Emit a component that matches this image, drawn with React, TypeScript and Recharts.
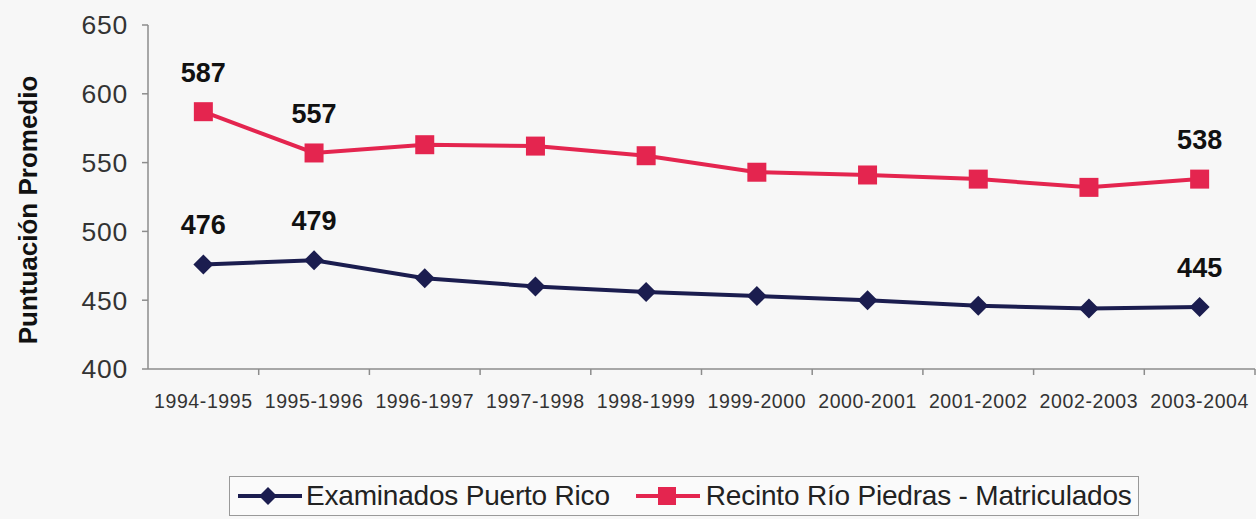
import { LineChart, Line, XAxis, YAxis, LabelList, Label } from "recharts";

const categories = [
  "1994-1995",
  "1995-1996",
  "1996-1997",
  "1997-1998",
  "1998-1999",
  "1999-2000",
  "2000-2001",
  "2001-2002",
  "2002-2003",
  "2003-2004",
];
const examinados = [476, 479, 466, 460, 456, 453, 450, 446, 444, 445];
const recinto = [587, 557, 563, 562, 555, 543, 541, 538, 532, 538];
const labeledIdx = [0, 1, 9];
const yTicks = [400, 450, 500, 550, 600, 650];

const NAVY = "#1b1d4f";
const RED = "#e4254f";
const AXIS = "#8c8c8c";
const FONT = '"Liberation Sans", Arial, sans-serif';

const W = 1256;
const H = 519;
const MARGIN = { top: 25, right: 1, left: 0, bottom: 110 };
const Y_AXIS_W = 148;
const BAND = (W - Y_AXIS_W - MARGIN.right) / categories.length;

const data = categories.map((c, i) => ({
  name: c,
  examinados: examinados[i],
  recinto: recinto[i],
}));

function XTick(props: any) {
  const { x, y, payload } = props;
  return (
    <g>
      <line x1={x + BAND / 2} y1={y} x2={x + BAND / 2} y2={y + 6} stroke={AXIS} strokeWidth={1.5} />
      <text
        x={x}
        y={y + 32}
        textAnchor="middle"
        dominantBaseline="central"
        fontSize={19.5}
        letterSpacing={0.6}
        fill="#333"
        fontFamily={FONT}
      >
        {payload.value}
      </text>
    </g>
  );
}

function SquareDot(props: any) {
  const { cx, cy } = props;
  if (cx == null || cy == null) return null;
  return <rect x={cx - 9.5} y={cy - 9.5} width={19} height={19} fill={RED} />;
}

function DiamondDot(props: any) {
  const { cx, cy } = props;
  if (cx == null || cy == null) return null;
  return (
    <polygon
      points={`${cx},${cy - 10} ${cx + 10},${cy} ${cx},${cy + 10} ${cx - 10},${cy}`}
      fill={NAVY}
    />
  );
}

function ValueLabel(props: any) {
  const { x, y, value, index } = props;
  if (!labeledIdx.includes(index)) return null;
  return (
    <text
      x={x}
      y={y - 39}
      textAnchor="middle"
      dominantBaseline="central"
      fontSize={27}
      fontWeight={700}
      fill="#111"
      fontFamily={FONT}
    >
      {value}
    </text>
  );
}

function LegendIcon({ color, shape }: { color: string; shape: "diamond" | "square" }) {
  return (
    <svg width={64} height={24} style={{ display: "block" }}>
      <line x1={0} y1={12} x2={64} y2={12} stroke={color} strokeWidth={4} />
      {shape === "diamond" ? (
        <polygon points="30,3 39,12 30,21 21,12" fill={color} />
      ) : (
        <rect x={22} y={3} width={18} height={18} fill={color} />
      )}
    </svg>
  );
}

export default function App() {
  return (
    <div
      style={{
        position: "absolute",
        left: 0,
        top: 0,
        width: W,
        height: H,
        background: "#f7f7f7",
        fontFamily: FONT,
      }}
    >
      <LineChart width={W} height={H} data={data} margin={MARGIN}>
        <XAxis
          dataKey="name"
          scale="band"
          interval={0}
          height={40}
          tickLine={false}
          tickSize={0}
          tickMargin={0}
          axisLine={{ stroke: AXIS, strokeWidth: 1.5 }}
          tick={<XTick />}
        />
        <YAxis
          domain={[400, 650]}
          ticks={yTicks}
          width={Y_AXIS_W}
          tickSize={6}
          tickMargin={14}
          axisLine={{ stroke: AXIS, strokeWidth: 1.5 }}
          tickLine={{ stroke: AXIS, strokeWidth: 1.5 }}
          tick={{ fontSize: 26.5, fill: "#333", fontFamily: FONT, letterSpacing: 0.8 }}
        >
          <Label
            content={() => (
              <text
                x={28}
                y={210}
                transform="rotate(-90, 28, 210)"
                textAnchor="middle"
                dominantBaseline="central"
                fontSize={26}
                fontWeight={700}
                fill="#111"
                fontFamily={FONT}
              >
                Puntuación Promedio
              </text>
            )}
          />
        </YAxis>
        <Line
          dataKey="examinados"
          stroke={NAVY}
          strokeWidth={4}
          dot={<DiamondDot />}
          activeDot={false}
          isAnimationActive={false}
        >
          <LabelList dataKey="examinados" content={<ValueLabel />} />
        </Line>
        <Line
          dataKey="recinto"
          stroke={RED}
          strokeWidth={4}
          dot={<SquareDot />}
          activeDot={false}
          isAnimationActive={false}
        >
          <LabelList dataKey="recinto" content={<ValueLabel />} />
        </Line>
      </LineChart>

      {/* legend box */}
      <div
        style={{
          position: "absolute",
          left: 229,
          top: 476,
          width: 910,
          height: 40,
          boxSizing: "border-box",
          border: "1.5px solid #999",
          background: "#fafafa",
          display: "flex",
          alignItems: "center",
          paddingLeft: 8,
          fontSize: 28,
          letterSpacing: -0.2,
          color: "#222",
        }}
      >
        <LegendIcon color={NAVY} shape="diamond" />
        <span style={{ marginLeft: 4 }}>Examinados Puerto Rico</span>
        <span style={{ width: 26 }} />
        <LegendIcon color={RED} shape="square" />
        <span style={{ marginLeft: 6 }}>Recinto Río Piedras - Matriculados</span>
      </div>
    </div>
  );
}
